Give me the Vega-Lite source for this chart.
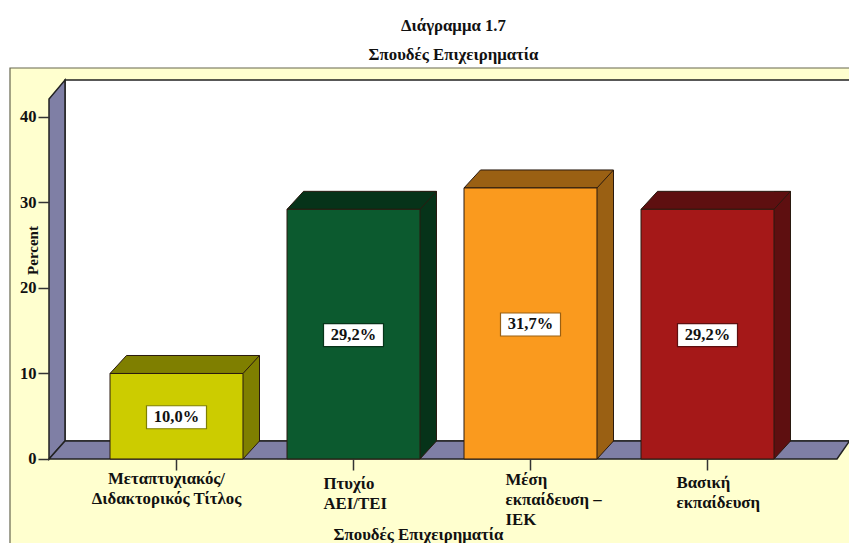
{
"$schema":"https://vega.github.io/schema/vega-lite/v6.json",
"width":839,"height":475,
"autosize":{"type":"none"},
"padding":{"left":10,"top":68,"right":0,"bottom":0},
"background":"white",
"view":{"stroke":null},
"title":{"text":["Διάγραμμα 1.7","Σπουδές Επιχειρηματία"],"font":"Liberation Serif","fontWeight":"bold","fontSize":16.8,"lineHeight":29,"color":"#111","anchor":"middle","dx":24,"offset":2},
"config":{"font":"Liberation Serif"},
"data":{"values":[
{"category":"Μεταπτυχιακός/ Διδακτορικός Τίτλος","percent":10.0,"label":"10,0%"},
{"category":"Πτυχίο ΑΕΙ/ΤΕΙ","percent":29.2,"label":"29,2%"},
{"category":"Μέση εκπαίδευση – ΙΕΚ","percent":31.7,"label":"31,7%"},
{"category":"Βασική εκπαίδευση","percent":29.2,"label":"29,2%"}
]},
"transform":[{"calculate":"datum.percent/2","as":"mid"}],
"encoding":{
"x":{"field":"category","type":"nominal","sort":null,
 "scale":{"domain":["Μεταπτυχιακός/ Διδακτορικός Τίτλος","Πτυχίο ΑΕΙ/ΤΕΙ","Μέση εκπαίδευση – ΙΕΚ","Βασική εκπαίδευση"],"range":[78,786],"paddingInner":0.2486,"paddingOuter":0.1243},
 "axis":{"title":"Σπουδές Επιχειρηματία","titleFont":"Liberation Serif","titleFontSize":16.8,"titleFontWeight":"bold","titleColor":"#111","titleX":408,"titleY":80,"titleBaseline":"alphabetic","titleAnchor":"middle","titleAlign":"center",
  "offset":-84,"domain":false,"grid":false,"zindex":1,"tickColor":"#333","tickWidth":1.5,"tickSize":11,"labelAngle":0,"labelLimit":0,"labelColor":"#111","labelFont":"Liberation Serif","labelFontWeight":"bold","labelFontSize":16.8,"labelLineHeight":20,"labelBaseline":"top",
  "labelExpr":"indexof(datum.label,'Μεταπτ')>=0?['Μεταπτυχιακός/','Διδακτορικός Τίτλος']:indexof(datum.label,'Πτυχίο')>=0?['Πτυχίο','ΑΕΙ/ΤΕΙ']:indexof(datum.label,'Μέση')>=0?['Μέση','εκπαίδευση –','ΙΕΚ']:['Βασική','εκπαίδευση']",
  "labelAlign":{"condition":{"test":"indexof(datum.value,'Μεταπτ')>=0","value":"center"},"value":"left"},
  "labelOffset":{"condition":[{"test":"indexof(datum.value,'Μεταπτ')>=0","value":-10},{"test":"indexof(datum.value,'Πτυχίο')>=0","value":-30},{"test":"indexof(datum.value,'Μέση')>=0","value":-25}],"value":-31},
  "labelPadding":{"condition":[{"test":"indexof(datum.value,'Μεταπτ')>=0","value":0},{"test":"indexof(datum.value,'Πτυχίο')>=0","value":5},{"test":"indexof(datum.value,'Μέση')>=0","value":1}],"value":4}
 }},
"y":{"field":"percent","type":"quantitative","stack":null,
 "scale":{"domain":[-9.825,45.73],"nice":false,"zero":false},
 "axis":{"title":"Percent","titleFont":"Liberation Serif","titleFontSize":15,"titleFontWeight":"bold","titleColor":"#111","titleX":-9,"titleY":182,"titleAnchor":"middle",
  "offset":-39,"values":[0,10,20,30,40],"domain":false,"grid":false,"zindex":1,"tickColor":"#333","tickWidth":1.5,"tickSize":11,"labelColor":"#111","labelFont":"Liberation Serif","labelFontWeight":"bold","labelFontSize":16.5,"labelPadding":2}}
},
"layer":[
{"data":{"values":[{"category":"Μεταπτυχιακός/ Διδακτορικός Τίτλος","percent":0}]},
 "mark":{"type":"point","shape":"M-166.5 -391 L800 -391 L800 200 L-166.5 200 Z","size":4,"filled":true,"fill":"#FFFFCF","stroke":"#66664f","strokeWidth":1.2,"opacity":1}},
{"data":{"values":[{"category":"Μεταπτυχιακός/ Διδακτορικός Τίτλος","percent":0}]},
 "mark":{"type":"point","shape":"M-111.5 -379 L800 -379 L800 -18 L-111.5 -18 Z","size":4,"filled":true,"fill":"white","stroke":"#222","strokeWidth":1.5,"opacity":1}},
{"data":{"values":[{"category":"Μεταπτυχιακός/ Διδακτορικός Τίτλος","percent":0}]},
 "mark":{"type":"point","shape":"M-127.5 0 L-127.5 -360 L-111.5 -379 L-111.5 -18 Z","size":4,"filled":true,"fill":"#7F7FA5","stroke":"#222","strokeWidth":1.5,"opacity":1}},
{"data":{"values":[{"category":"Μεταπτυχιακός/ Διδακτορικός Τίτλος","percent":0}]},
 "mark":{"type":"point","shape":"M-127.5 0 L-111.5 -18 L800 -18 L800 -30 L673 -18 L660.5 0 Z","size":4,"filled":true,"fill":"#7F7FA5","stroke":"#222","strokeWidth":1.5,"opacity":1}},
{"mark":{"type":"bar","width":16.5,"xOffset":74.75,"yOffset":-18,"y2Offset":-18},
 "encoding":{"y2":{"datum":0},"color":{"field":"category","type":"nominal","legend":null,"scale":{"domain":["Μεταπτυχιακός/ Διδακτορικός Τίτλος","Πτυχίο ΑΕΙ/ΤΕΙ","Μέση εκπαίδευση – ΙΕΚ","Βασική εκπαίδευση"],"range":["#7F7F00","#063319","#9A6013","#5E0F10"]}}}},
{"mark":{"type":"point","shape":"M66.5 0 L83 -18 L66.5 -18 Z","size":4,"filled":true,"opacity":1},
 "encoding":{"y":{"datum":0},"color":{"field":"category","type":"nominal","legend":null}}},
{"mark":{"type":"bar","width":1,"xOffset":83,"yOffset":-18,"y2Offset":-18,"color":"#2a1a10"},
 "encoding":{"y2":{"datum":0}}},
{"mark":{"type":"point","shape":"M66.5 0 L83 -18","size":4,"filled":false,"stroke":"#2a1a10","strokeWidth":1,"opacity":1},
 "encoding":{"y":{"datum":0}}},
{"mark":{"type":"point","shape":"M-66.5 0 L-50 -18 L83 -18 L66.5 0 Z","size":4,"filled":true,"stroke":"#2a1a10","strokeWidth":1,"opacity":1},
 "encoding":{"color":{"field":"category","type":"nominal","legend":null}}},
{"mark":{"type":"bar","stroke":"#2a1a10","strokeWidth":1},
 "encoding":{"y2":{"datum":0},"fill":{"field":"category","type":"nominal","legend":null,"scale":{"domain":["Μεταπτυχιακός/ Διδακτορικός Τίτλος","Πτυχίο ΑΕΙ/ΤΕΙ","Μέση εκπαίδευση – ΙΕΚ","Βασική εκπαίδευση"],"range":["#CCCC00","#0C5A2F","#FA9A1E","#A51818"]}}}},
{"mark":{"type":"point","shape":"M-30 -11.5 L30 -11.5 L30 11.5 L-30 11.5 Z","size":4,"filled":false,"fill":"white","strokeWidth":1.2,"opacity":1,"yOffset":1},
 "encoding":{"y":{"field":"mid","type":"quantitative"},"stroke":{"field":"category","type":"nominal","legend":null,"scale":{"domain":["Μεταπτυχιακός/ Διδακτορικός Τίτλος","Πτυχίο ΑΕΙ/ΤΕΙ","Μέση εκπαίδευση – ΙΕΚ","Βασική εκπαίδευση"],"range":["#7F7F00","#063319","#9A6013","#5E0F10"]}}}},
{"mark":{"type":"text","font":"Liberation Serif","fontWeight":"bold","fontSize":16.5,"color":"#111","align":"center","baseline":"middle","yOffset":1},
 "encoding":{"y":{"field":"mid","type":"quantitative"},"text":{"field":"label"}}}
]
}
